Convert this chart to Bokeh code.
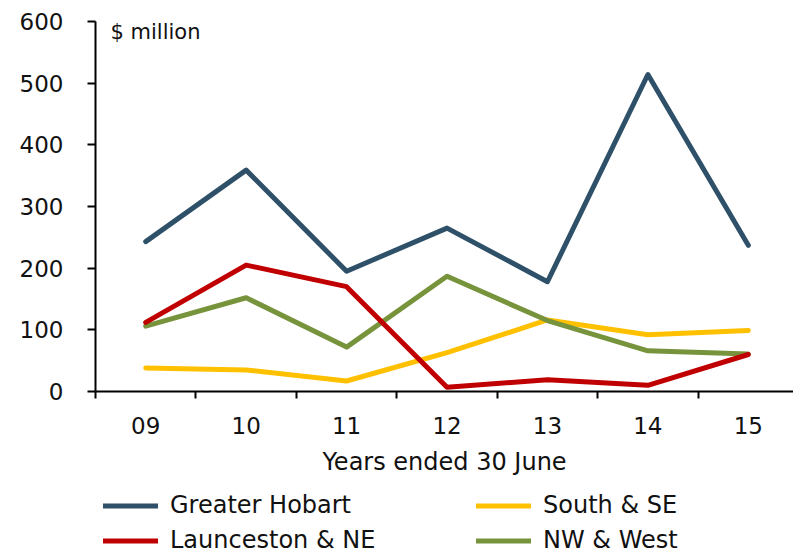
from bokeh.plotting import figure
from bokeh.layouts import column
from bokeh.models import Range1d, FixedTicker, Legend, LegendItem, Label
from bokeh.embed import file_html
from bokeh.resources import INLINE

years = ["09", "10", "11", "12", "13", "14", "15"]
greater_hobart = [243, 359, 195, 265, 178, 514, 237]
launceston_ne = [112, 205, 170, 7, 19, 10, 60]
south_se = [38, 35, 17, 63, 116, 92, 99]
nw_west = [106, 152, 72, 187, 115, 66, 61]

FONT = "DejaVu Sans"
TXT = "#111111"
xs = list(range(len(years)))

p = figure(width=793, height=478, output_backend="svg", toolbar_location=None,
           x_range=Range1d(-0.5, 6.45), y_range=Range1d(0, 600),
           min_border_left=95, min_border_right=0, min_border_top=21, min_border_bottom=86)
p.outline_line_color = None
p.xgrid.grid_line_color = None
p.ygrid.grid_line_color = None

colors = {
    "Greater Hobart": "#2E5068",
    "South & SE": "#FFC000",
    "Launceston & NE": "#C00000",
    "NW & West": "#77933C",
}
values = {
    "Greater Hobart": greater_hobart,
    "South & SE": south_se,
    "Launceston & NE": launceston_ne,
    "NW & West": nw_west,
}
for name in ["South & SE", "NW & West", "Launceston & NE", "Greater Hobart"]:
    p.line(xs, values[name], line_color=colors[name], line_width=5,
           line_join="round", line_cap="round")

# x axis
xa = p.xaxis[0]
xa.ticker = FixedTicker(ticks=xs, minor_ticks=[i - 0.5 for i in range(len(years) + 1)])
xa.major_label_overrides = {i: y for i, y in enumerate(years)}
xa.major_tick_line_color = None
xa.major_tick_out = 0
xa.major_tick_in = 0
xa.minor_tick_line_color = "black"
xa.minor_tick_line_width = 2
xa.minor_tick_out = 7
xa.minor_tick_in = 0
xa.axis_line_width = 2
xa.axis_line_color = "black"
xa.major_label_text_font = FONT
xa.major_label_text_font_size = "23px"
xa.major_label_text_color = TXT
xa.major_label_standoff = 18
xa.axis_label = "Years ended 30 June"
xa.axis_label_text_font = FONT
xa.axis_label_text_font_size = "24px"
xa.axis_label_text_font_style = "normal"
xa.axis_label_text_color = TXT
xa.axis_label_standoff = 11

# y axis
ya = p.yaxis[0]
ya.ticker = FixedTicker(ticks=[0, 100, 200, 300, 400, 500, 600])
ya.minor_tick_line_color = None
ya.major_tick_out = 8
ya.major_tick_in = 0
ya.major_tick_line_width = 2
ya.axis_line_width = 2
ya.axis_line_color = "black"
ya.major_label_text_font = FONT
ya.major_label_text_font_size = "23px"
ya.major_label_text_color = TXT
ya.major_label_standoff = 24

p.add_layout(Label(x=15, y=360, x_units="screen", y_units="screen", text="$ million",
                   text_font=FONT, text_font_size="21px", text_color=TXT,
                   text_baseline="middle"))

# legend strip below the chart (legend-only renderers hold no visible points)
lf = figure(width=793, height=76, output_backend="svg", toolbar_location=None,
            x_axis_location=None, y_axis_location=None,
            x_range=Range1d(0, 1), y_range=Range1d(0, 1),
            min_border_left=0, min_border_right=0, min_border_top=0, min_border_bottom=0)
lf.outline_line_color = None
lf.xgrid.grid_line_color = None
lf.ygrid.grid_line_color = None
nan = float("nan")
leg_r = {}
for name in colors:
    leg_r[name] = lf.line([nan], [nan], line_color=colors[name], line_width=5, line_cap="round")

order = ["Greater Hobart", "Launceston & NE", "South & SE", "NW & West"]
items = [LegendItem(label=n, renderers=[leg_r[n]]) for n in order]
legend = Legend(items=items, ncols=2, location=(8, 0),
                label_text_font=FONT, label_text_font_size="24px", label_text_color=TXT,
                glyph_width=55, glyph_height=25, label_height=25, label_width=299,
                label_standoff=12, spacing=7, padding=0, margin=0,
                border_line_color=None, background_fill_alpha=0)
lf.add_layout(legend, "center")

layout = column(p, lf, spacing=0)
open("out.html", "w").write(file_html(layout, INLINE))
